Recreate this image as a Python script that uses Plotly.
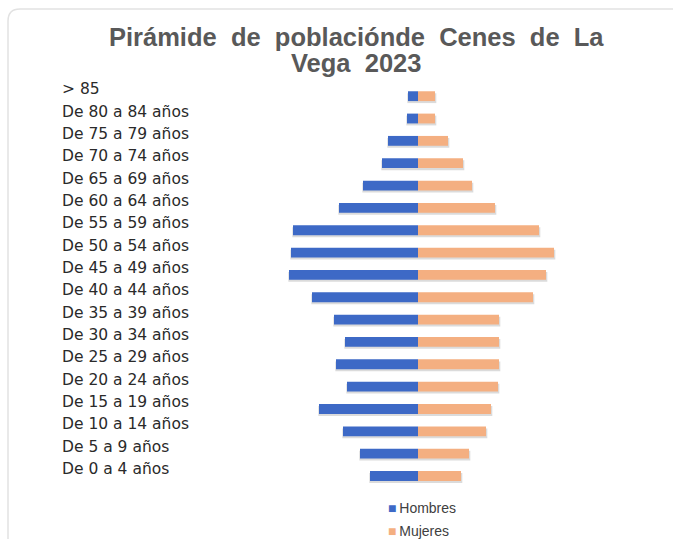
import plotly.graph_objects as go

# Age groups (top to bottom as shown)
grupos = [
    "> 85", "De 80 a 84 años", "De 75 a 79 años", "De 70 a 74 años",
    "De 65 a 69 años", "De 60 a 64 años", "De 55 a 59 años", "De 50 a 54 años",
    "De 45 a 49 años", "De 40 a 44 años", "De 35 a 39 años", "De 30 a 34 años",
    "De 25 a 29 años", "De 20 a 24 años", "De 15 a 19 años", "De 10 a 14 años",
    "De 5 a 9 años", "De 0 a 4 años",
]
# Estimated populations
hombres = [30, 33, 90, 108, 165, 237, 375, 381, 387, 318, 252, 219, 246, 213, 297, 225, 174, 144]
mujeres = [51, 51, 90, 135, 162, 231, 363, 408, 384, 345, 243, 243, 243, 240, 219, 204, 153, 129]

titulo_l1 = "Pirámide  de  poblaciónde  Cenes  de  La"
titulo_l2 = "Vega  2023"

W, H = 673, 539
ML, MR, MT, MB = 270, 107, 85, 45
PW, PH = W - ML - MR, H - MT - MB

def px(x):
    return (x - ML) / PW

def py(y):
    return (H - MB - y) / PH

AZUL = "#3D69C6"
NARANJA = "#F4AF81"
SOMBRA = "rgba(0,0,0,0.14)"
BW = 0.44

fig = go.Figure()
# soft drop shadows under the bars
fig.add_trace(go.Bar(
    y=grupos, x=[-(v + 2) for v in hombres], base=0, orientation="h",
    width=BW, offset=-BW / 2 + 0.09, marker=dict(color=SOMBRA, line=dict(width=0)),
    showlegend=False, hoverinfo="skip",
))
fig.add_trace(go.Bar(
    y=grupos, x=[v + 4 for v in mujeres], base=0, orientation="h",
    width=BW, offset=-BW / 2 + 0.09, marker=dict(color=SOMBRA, line=dict(width=0)),
    showlegend=False, hoverinfo="skip",
))
fig.add_trace(go.Bar(
    y=grupos, x=[-v for v in hombres], orientation="h", name="Hombres",
    width=BW, offset=-BW / 2,
    marker=dict(color=AZUL, line=dict(width=0)), showlegend=False,
    hovertemplate="%{y}: %{customdata}<extra>Hombres</extra>", customdata=hombres,
))
fig.add_trace(go.Bar(
    y=grupos, x=mujeres, orientation="h", name="Mujeres",
    width=BW, offset=-BW / 2,
    marker=dict(color=NARANJA, line=dict(width=0)), showlegend=False,
    hovertemplate="%{y}: %{x}<extra>Mujeres</extra>",
))

annotations = []
for g in grupos:
    annotations.append(dict(
        text=g, xref="paper", yref="y", x=px(60), y=g, xanchor="left",
        yanchor="middle", yshift=7, showarrow=False,
        font=dict(family="DejaVu Sans", size=15.5, color="#2a2a2a"),
    ))

tfont = dict(family="Liberation Sans", size=25.5, color="#595959", weight="bold")
annotations.append(dict(text=titulo_l1.replace("  ", " &nbsp;"), xref="paper", yref="paper",
                        x=px(356), y=py(37), xanchor="center", yanchor="middle",
                        showarrow=False, font=tfont))
annotations.append(dict(text=titulo_l2.replace("  ", " &nbsp;"), xref="paper", yref="paper",
                        x=px(356), y=py(63), xanchor="center", yanchor="middle",
                        showarrow=False, font=tfont))

for name, col, ypix in [("Hombres", AZUL, 508), ("Mujeres", NARANJA, 531)]:
    annotations.append(dict(
        text=f"<span style='color:{col}'>■</span>\u2009{name}", xref="paper", yref="paper",
        x=px(386), y=py(ypix), xanchor="left", yanchor="middle", showarrow=False,
        font=dict(family="Liberation Sans", size=14, color="#404040"),
    ))

card = (f"M {px(8)},{py(560)} L {px(8)},{py(21)} "
        f"Q {px(8)},{py(9)} {px(20)},{py(9)} L {px(700)},{py(9)}")

fig.update_layout(
    width=W, height=H,
    margin=dict(l=ML, r=MR, t=MT, b=MB),
    paper_bgcolor="white", plot_bgcolor="white",
    barmode="overlay",
    xaxis=dict(range=[-444, 444], visible=False, fixedrange=True),
    yaxis=dict(autorange="reversed", showticklabels=False, showgrid=False,
               zeroline=False, ticks="", showline=False, fixedrange=True),
    annotations=annotations,
    shapes=[dict(type="path", path=card, xref="paper", yref="paper",
                 line=dict(color="#e2e2e2", width=1.5), layer="below")],
    showlegend=False,
)

fig.write_html(
    "out.html",
    config={"displayModeBar": False},
    post_script="document.body.style.margin='0';document.body.style.overflow='hidden';",
)
